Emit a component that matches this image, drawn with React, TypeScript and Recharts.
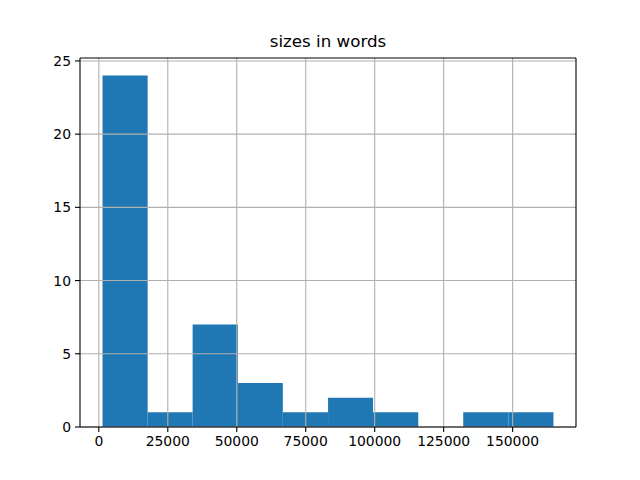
import React from 'react';
import { ComposedChart, XAxis, YAxis, ReferenceArea, ReferenceLine } from 'recharts';

// histogram bins
const binEdges = [1350, 17700, 34000, 50400, 66700, 83100, 99400, 115800, 132100, 148500, 164800];
const binCounts = [24, 1, 7, 3, 1, 2, 1, 0, 1, 1];
const xTicks = [0, 25000, 50000, 75000, 100000, 125000, 150000];
const yTicks = [0, 5, 10, 15, 20, 25];

const xDomain: [number, number] = [-6822, 172972];
const yDomain: [number, number] = [0, 25.2];

const bins = binCounts.map((count, i) => ({
  x0: binEdges[i],
  x1: binEdges[i + 1],
  mid: (binEdges[i] + binEdges[i + 1]) / 2,
  count,
}));

const BLUE = '#1f77b4';
const GRID = '#b0b0b0';
const tickStyle = { fill: '#000', fontSize: 13.9, fontFamily: 'DejaVu Sans' };

const App = () => {
  return (
    <div style={{ position: 'absolute', left: 0, top: 0, width: 640, height: 480, background: '#fff', fontFamily: 'DejaVu Sans' }}>
      <div
        style={{
          position: 'absolute',
          left: 80,
          width: 496,
          top: 33,
          textAlign: 'center',
          fontSize: 16.7,
          lineHeight: 1,
          color: '#000',
        }}
      >
        sizes in words
      </div>
      <ComposedChart width={640} height={480} data={bins} margin={{ top: 58, right: 64, bottom: 23, left: 30 }}>
        <XAxis
          dataKey="mid"
          type="number"
          domain={xDomain}
          ticks={xTicks}
          allowDataOverflow
          height={30}
          tickSize={5}
          tickMargin={4}
          tick={tickStyle}
          stroke="#000"
          axisLine={{ stroke: '#000', strokeWidth: 1.1 }}
          tickLine={{ stroke: '#000', strokeWidth: 1.1 }}
        />
        <YAxis
          type="number"
          domain={yDomain}
          ticks={yTicks}
          allowDataOverflow
          width={50}
          tickSize={5}
          tickMargin={4}
          tick={tickStyle}
          axisLine={{ stroke: '#000', strokeWidth: 1.1 }}
          tickLine={{ stroke: '#000', strokeWidth: 1.1 }}
        />
        {bins
          .filter(b => b.count > 0)
          .map(b => (
            <ReferenceArea
              key={b.x0}
              x1={b.x0}
              x2={b.x1}
              y1={0}
              y2={b.count}
              fill={BLUE}
              fillOpacity={1}
              stroke="none"
              isFront={false}
            />
          ))}
        {xTicks.map(t => (
          <ReferenceLine key={'gx' + t} x={t} stroke={GRID} strokeWidth={1.1} />
        ))}
        {yTicks.map(t => (
          <ReferenceLine key={'gy' + t} y={t} stroke={GRID} strokeWidth={1.1} />
        ))}
        <ReferenceLine y={yDomain[1]} stroke="#000" strokeWidth={1.1} />
        <ReferenceLine x={xDomain[1]} stroke="#000" strokeWidth={1.1} />
      </ComposedChart>
    </div>
  );
};

export default App;
